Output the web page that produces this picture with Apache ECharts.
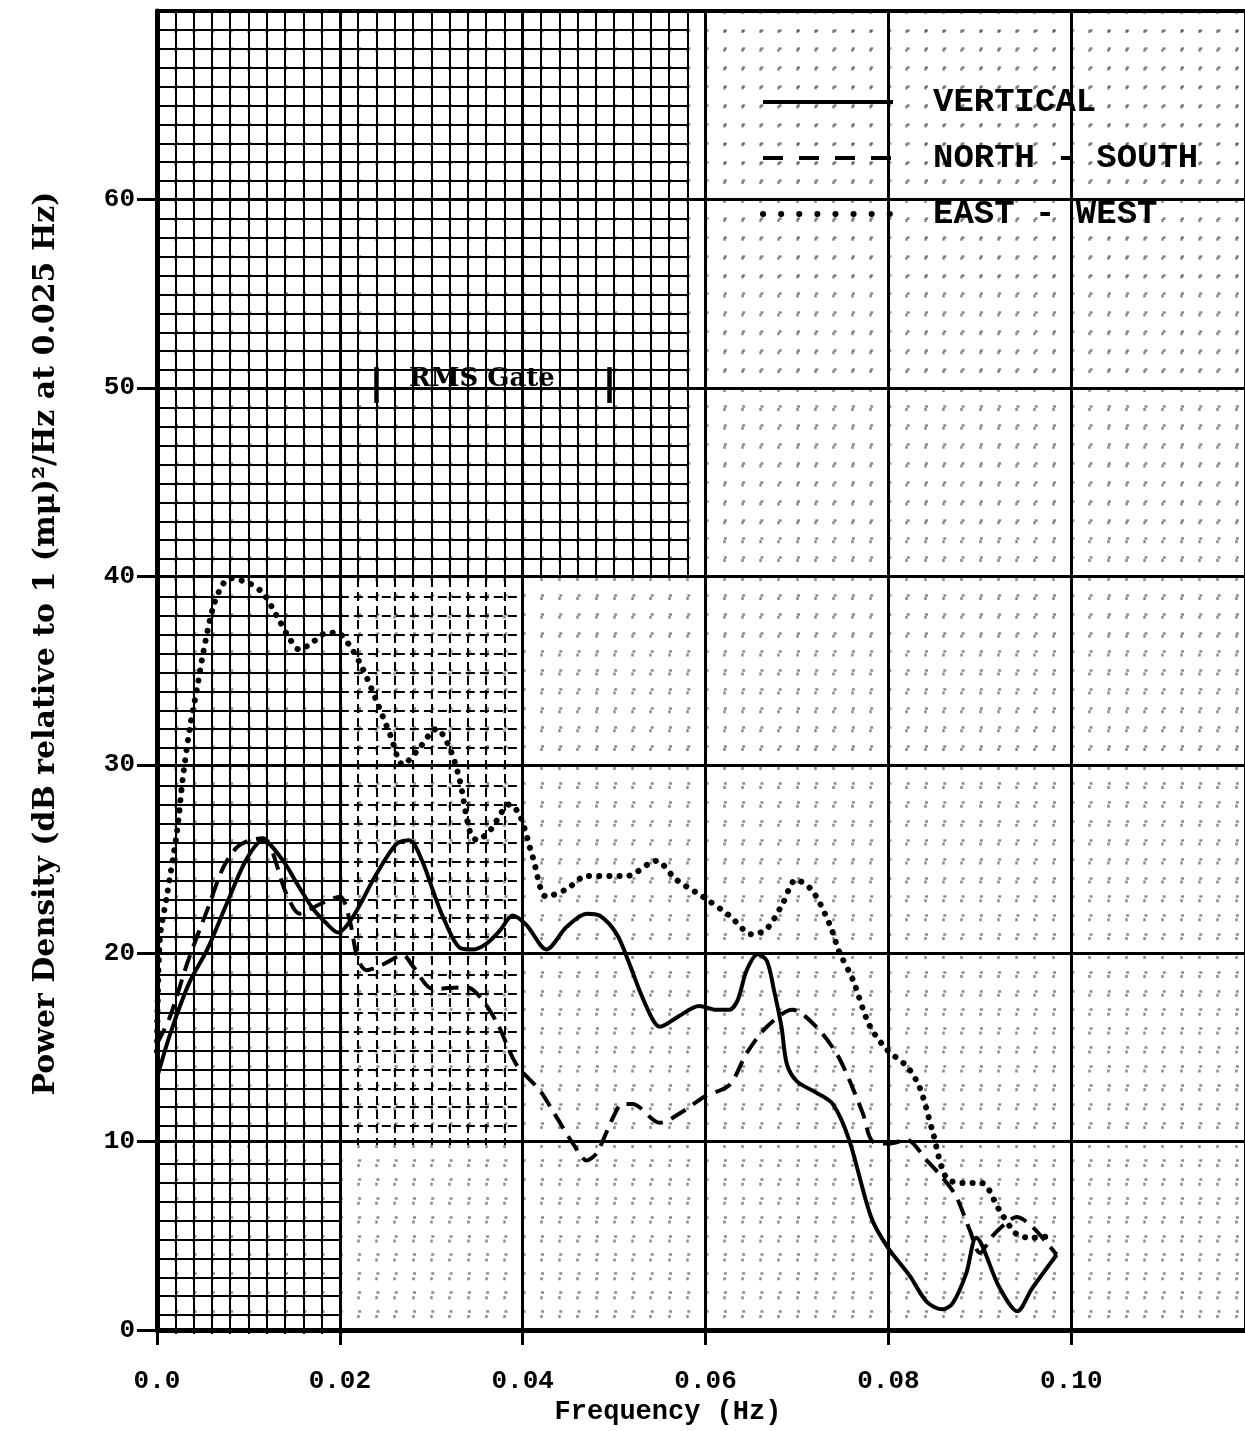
<!DOCTYPE html>
<html><head><meta charset="utf-8">
<script src="https://cdn.jsdelivr.net/npm/echarts@6/dist/echarts.min.js"></script>
<style>html,body{margin:0;padding:0;background:#fff}#c{width:1245px;height:1431px}</style>
</head><body><div id="c"></div><script>
// ---- data ----
const seriesNames = ['VERTICAL', 'NORTH - SOUTH', 'EAST - WEST'];
const xTickLabels = ['0.0', '0.02', '0.04', '0.06', '0.08', '0.10'];
const yTickLabels = ['0', '10', '20', '30', '40', '50', '60'];
const rmsGate = [0.024, 0.0495];
const rmsGateLabel = 'RMS Gate';

const vertFreq = [0, 0.0015, 0.0035, 0.0055, 0.0076, 0.0098, 0.0116, 0.0138, 0.0153, 0.017, 0.0185, 0.0198, 0.0214, 0.024, 0.0262, 0.0276, 0.029, 0.0302, 0.0313, 0.0331, 0.0345, 0.036, 0.0375, 0.0389, 0.0404, 0.0426, 0.0448, 0.047, 0.0484, 0.0503, 0.0517, 0.0528, 0.0542, 0.055, 0.0572, 0.0593, 0.0612, 0.0626, 0.0635, 0.0645, 0.0657, 0.0667, 0.0675, 0.0683, 0.0689, 0.07, 0.0721, 0.0739, 0.0757, 0.0781, 0.0799, 0.0823, 0.0842, 0.0859, 0.087, 0.0885, 0.0896, 0.0921, 0.0941, 0.0957, 0.0984];
const vertDb = [13.4, 15.8, 18.4, 20.2, 22.6, 25.0, 26.0, 24.9, 23.7, 22.4, 21.6, 21.1, 21.9, 24.2, 25.8, 26.0, 24.9, 23.3, 21.9, 20.3, 20.2, 20.5, 21.2, 22.0, 21.5, 20.2, 21.4, 22.1, 22.0, 21.0, 19.4, 18.0, 16.5, 16.1, 16.7, 17.2, 17.0, 17.0, 17.5, 19.1, 19.95, 19.6, 18.0, 16.1, 14.1, 13.2, 12.6, 12.0, 10.1, 6.0, 4.4, 2.9, 1.5, 1.1, 1.4, 3.0, 4.9, 2.3, 1.0, 2.2, 4.0];

const nsFreq = [0, 0.0014, 0.0034, 0.0055, 0.0072, 0.0087, 0.0102, 0.0116, 0.0142, 0.0156, 0.0178, 0.02, 0.0211, 0.0219, 0.0229, 0.0247, 0.0269, 0.028, 0.0302, 0.0339, 0.0353, 0.0372, 0.0393, 0.0419, 0.0437, 0.0455, 0.047, 0.0481, 0.0498, 0.0509, 0.052, 0.055, 0.0575, 0.0599, 0.0626, 0.0645, 0.0667, 0.0695, 0.0721, 0.0743, 0.0757, 0.0772, 0.0783, 0.0801, 0.082, 0.0842, 0.0859, 0.0874, 0.0889, 0.09, 0.0914, 0.0929, 0.094, 0.0957, 0.0984];
const nsDb = [15.2, 16.6, 19.6, 22.3, 24.5, 25.6, 26.0, 26.1, 23.1, 22.1, 22.6, 23.0, 21.7, 19.8, 19.1, 19.4, 19.9, 19.3, 18.1, 18.2, 17.7, 16.3, 14.1, 12.7, 11.3, 9.9, 9.0, 9.4, 11.2, 12.0, 12.0, 11.0, 11.6, 12.4, 13.0, 14.7, 16.1, 17.0, 16.1, 14.7, 13.3, 11.5, 10.0, 9.9, 10.1, 9.0, 8.1, 7.1, 5.3, 4.1, 5.0, 5.7, 6.0, 5.5, 4.0];

const ewFreq = [0, 0.0003, 0.0011, 0.0022, 0.0028, 0.0036, 0.0044, 0.005, 0.0061, 0.0071, 0.008, 0.0102, 0.0116, 0.0131, 0.0145, 0.0156, 0.017, 0.0186, 0.0197, 0.0211, 0.0225, 0.024, 0.0255, 0.0269, 0.0284, 0.0306, 0.032, 0.0331, 0.0342, 0.035, 0.0364, 0.0386, 0.0397, 0.0411, 0.0426, 0.0448, 0.047, 0.0514, 0.0546, 0.0568, 0.0597, 0.0626, 0.0651, 0.0667, 0.0684, 0.0699, 0.0717, 0.0736, 0.0746, 0.0761, 0.0779, 0.0798, 0.082, 0.0834, 0.0848, 0.0863, 0.0881, 0.0902, 0.0921, 0.094, 0.0957, 0.0981];
const ewDb = [14.8, 20.7, 23.1, 26.5, 29.2, 32.0, 34.1, 35.8, 38.3, 39.5, 39.9, 39.6, 39.1, 37.9, 36.7, 36.1, 36.5, 37.0, 37.0, 36.3, 35.1, 33.4, 31.6, 30.0, 30.7, 31.9, 30.9, 29.2, 26.5, 26.0, 26.5, 27.9, 27.3, 25.1, 23.0, 23.4, 24.1, 24.1, 24.9, 23.9, 23.0, 22.0, 21.0, 21.3, 22.6, 23.9, 23.3, 21.5, 20.1, 18.6, 16.2, 14.9, 14.0, 12.9, 10.6, 8.1, 7.8, 7.8, 6.4, 5.1, 4.9, 5.0];

// ---- layout ----
const L = 157, T = 11, W = 1088, H = 1323, XMAX = 0.119, YMAX = 70;
const px = f => f / XMAX * W, py = d => d / YMAX * H;
const zip = (a, b) => a.map((v, i) => [v, b[i]]);

const monoBold = {fontFamily: 'Liberation Mono', fontWeight: 'bold', color: '#000'};
const styleV = {color: '#000', width: 4, type: 'solid'};
const styleNS = {color: '#000', width: 4, type: [17, 9]};
const styleEW = {color: '#000', width: 6, type: [0.1, 10], cap: 'round'};

function ovX(gi, min, max, type) {
  return {gridIndex: gi, type: 'value', min, max, interval: 0.02,
    axisLine: {show: false}, axisTick: {show: false}, axisLabel: {show: false},
    splitLine: {show: false}, minorTick: {show: false, splitNumber: 10},
    minorSplitLine: {show: true, lineStyle: {color: '#000', width: 2, type}}};
}
function ovY(gi, min, max, type) {
  return {gridIndex: gi, type: 'value', min, max, interval: 10,
    axisLine: {show: false}, axisTick: {show: false}, axisLabel: {show: false},
    splitLine: {show: false}, minorTick: {show: false, splitNumber: 10},
    minorSplitLine: {show: true, lineStyle: {color: '#000', width: 2, type}}};
}

const chart = echarts.init(document.getElementById('c'), null, {renderer: 'canvas'});
chart.setOption({
  backgroundColor: '#fff',
  animation: false,
  grid: [
    {left: L, top: T, width: W, height: H},
    {left: L, top: T, width: px(0.058), height: py(30)},
    {left: L, top: T + py(30), width: px(0.02), height: py(40)},
    {left: L + px(0.02), top: T + py(30), width: px(0.02), height: py(30)}
  ],
  xAxis: [
    {gridIndex: 0, type: 'value', min: 0, max: XMAX, interval: 0.02, position: 'bottom',
      name: 'Frequency (Hz)', nameLocation: 'middle', nameGap: 68,
      nameTextStyle: Object.assign({fontSize: 27, padding: [0, 66, 0, 0]}, monoBold),
      axisLine: {lineStyle: {color: '#000', width: 5}},
      axisTick: {length: 15, lineStyle: {color: '#000', width: 3}},
      axisLabel: Object.assign({fontSize: 26, margin: 38, showMaxLabel: false,
        formatter: v => xTickLabels[Math.round(v / 0.02)] || ''}, monoBold),
      splitLine: {lineStyle: {color: '#000', width: 3}},
      minorTick: {show: false, splitNumber: 10},
      minorSplitLine: {show: true, lineStyle: {color: '#000', width: 2.5, opacity: 0.45, type: [3, py(1) - 3]}}},
    {gridIndex: 0, type: 'value', min: 0, max: XMAX, position: 'top',
      axisLine: {lineStyle: {color: '#000', width: 4}}, axisTick: {show: false},
      axisLabel: {show: false}, splitLine: {show: false}},
    ovX(1, 0, 0.058, 'solid'),
    ovX(2, 0, 0.02, 'solid'),
    ovX(3, 0.02, 0.04, [9, 5])
  ],
  yAxis: [
    {gridIndex: 0, type: 'value', min: 0, max: YMAX, interval: 10,
      name: 'Power Density (dB relative to 1 (m\u03bc)\u00b2/Hz at 0.025 Hz)',
      nameLocation: 'middle', nameGap: 96, nameRotate: 90,
      nameTextStyle: {fontFamily: 'DejaVu Serif', fontWeight: 'bold', fontSize: 30, color: '#000', padding: [0, 0, 0, 54]},
      axisLine: {lineStyle: {color: '#000', width: 5}},
      axisTick: {length: 20, lineStyle: {color: '#000', width: 3}},
      axisLabel: Object.assign({fontSize: 26, margin: 22, showMaxLabel: false,
        formatter: v => yTickLabels[Math.round(v / 10)] || ''}, monoBold),
      splitLine: {lineStyle: {color: '#000', width: 3}},
      minorTick: {show: false, splitNumber: 10},
      minorSplitLine: {show: true, lineStyle: {color: '#000', width: 2.5, opacity: 0.45, type: [3, px(0.002) - 3]}}},
    ovY(1, 40, 70, 'solid'),
    ovY(2, 0, 40, 'solid'),
    ovY(3, 10, 40, [9, 5])
  ],
  legend: {
    orient: 'vertical', left: 755, top: 80, itemWidth: 130, itemHeight: 14, itemGap: 22,
    itemStyle: {opacity: 0},
    data: [
      {name: seriesNames[0], lineStyle: {color: '#000', width: 4, type: 'solid'}},
      {name: seriesNames[1], lineStyle: {color: '#000', width: 4, type: [20, 16]}},
      {name: seriesNames[2], lineStyle: {color: '#000', width: 6, type: [0.1, 18], cap: 'round'}}
    ],
    textStyle: Object.assign({fontSize: 34, lineHeight: 34, padding: [0, 0, 0, 35]}, monoBold)
  },
  series: [
    {name: seriesNames[0], type: 'line', xAxisIndex: 0, yAxisIndex: 0, z: 5,
      data: zip(vertFreq, vertDb), smooth: 0.3, symbol: 'none',
      lineStyle: styleV, itemStyle: {color: '#000'},
      markLine: {silent: true, symbol: ['none', 'none'],
        lineStyle: {color: '#000', width: 4.5, type: 'solid'},
        label: {show: false},
        data: [
          [{coord: [rmsGate[0], 49.2], lineStyle: {color: '#000', width: 4.5, type: 'solid'}}, {coord: [rmsGate[0], 51.1]}],
          [{coord: [rmsGate[1], 49.2], lineStyle: {color: '#000', width: 4.5, type: 'solid'}}, {coord: [rmsGate[1], 51.1]}],
          [{coord: [rmsGate[0], 50], lineStyle: {color: 'rgba(0,0,0,0)', width: 1},
            label: {show: true, position: 'middle', distance: -4, padding: [0, 22, 0, 0], formatter: rmsGateLabel,
              fontFamily: 'DejaVu Serif', fontWeight: 'bold', fontSize: 26, color: '#000'}},
           {coord: [rmsGate[1], 50]}]
        ]}},
    {name: seriesNames[1], type: 'line', xAxisIndex: 0, yAxisIndex: 0, z: 5,
      data: zip(nsFreq, nsDb), smooth: 0.3, symbol: 'none',
      lineStyle: styleNS, itemStyle: {color: '#000'}},
    {name: seriesNames[2], type: 'line', xAxisIndex: 0, yAxisIndex: 0, z: 5,
      data: zip(ewFreq, ewDb), smooth: 0.3, symbol: 'none',
      lineStyle: styleEW, itemStyle: {color: '#000'}}
  ]
});
</script></body></html>
